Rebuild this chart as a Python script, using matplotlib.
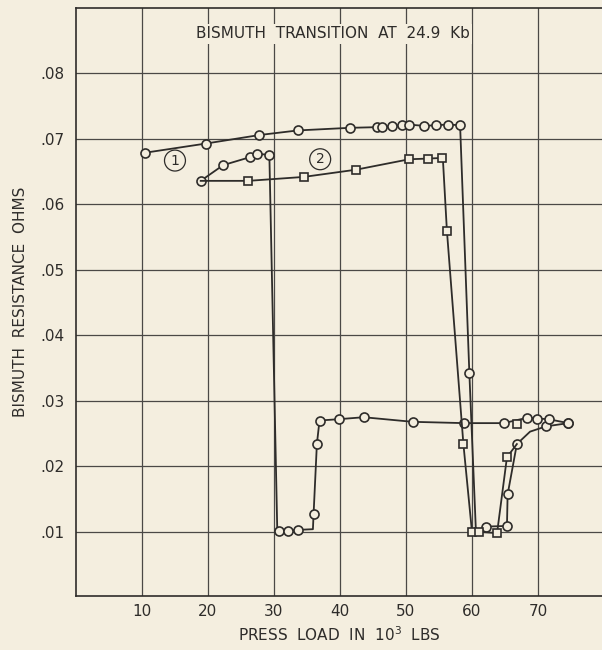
import matplotlib
matplotlib.use("Agg")
import matplotlib.pyplot as plt

# run 1: upper circle branch, drop near 59-60 and recovery near 65
a_x = [10.5, 19.7, 27.8, 33.6, 41.5, 45.6, 46.4, 47.9, 49.4, 50.4, 52.7, 54.6, 56.3, 58.2,
       59.6, 60.6, 62.2, 65.3, 65.4, 66.8, 68.8, 71.2, 74.6]
a_y = [0.0679, 0.0693, 0.0706, 0.0713, 0.0717, 0.0718, 0.0718, 0.0720, 0.0721, 0.0722, 0.0720, 0.0721, 0.0722, 0.0721,
       0.0343, 0.0100, 0.0108, 0.0109, 0.0157, 0.0234, 0.0253, 0.0261, 0.0266]
a_marks = [0, 1, 2, 3, 4, 5, 6, 7, 8, 9, 10, 11, 12, 13, 14, 16, 17, 18, 19, 21, 22]

# run 2: lower circle branch, drop at 30 and flat 0.027 line
b_x = [18.9, 22.3, 26.3, 27.4, 29.3, 30.5, 30.7, 32.2, 33.7, 35.9, 36.0, 36.5, 36.9, 39.8, 43.6, 51.0,
       58.8, 64.8, 68.3, 69.9, 71.6, 74.6]
b_y = [0.0636, 0.0660, 0.0672, 0.0677, 0.0676, 0.0102, 0.0102, 0.0102, 0.0103, 0.0104, 0.0127, 0.0234, 0.0270, 0.0272, 0.0275, 0.0268,
       0.0266, 0.0266, 0.0274, 0.0273, 0.0272, 0.0266]
b_marks = [0, 1, 2, 3, 4, 6, 7, 8, 10, 11, 12, 13, 14, 15, 16, 17, 18, 19, 20, 21]

# run 3: squares
c_x = [18.9, 26.1, 34.5, 42.4, 50.5, 53.3, 55.4, 55.6, 56.2, 58.7, 60.0, 61.0, 63.8, 65.3, 66.8]
c_y = [0.0636, 0.0636, 0.0642, 0.0653, 0.0669, 0.0670, 0.0671, 0.0668, 0.0560, 0.0234, 0.0100, 0.0100, 0.0098, 0.0214, 0.0234]
c_marks = [1, 2, 3, 4, 5, 6, 8, 9, 10, 11, 12, 13]
lone_sq_x = [66.8]
lone_sq_y = [0.0264]

x_ticks = [10, 20, 30, 40, 50, 60, 70]
y_ticks = [0.01, 0.02, 0.03, 0.04, 0.05, 0.06, 0.07, 0.08]
y_labels = ['.01', '.02', '.03', '.04', '.05', '.06', '.07', '.08']

bg = '#f4eedf'
ink = '#2e2c2a'

fig = plt.figure(figsize=(6.02, 6.5), dpi=100, facecolor=bg)
ax = fig.add_axes([0.1262, 0.0831, 0.8738, 0.9046], facecolor=bg)

style = dict(color=ink, lw=1.3, mfc=bg, mec=ink, mew=1.2)
ax.plot(a_x, a_y, marker='o', ms=6.5, markevery=a_marks, zorder=3, **style)
ax.plot(b_x, b_y, marker='o', ms=6.5, markevery=b_marks, zorder=3, **style)
ax.plot(c_x, c_y, marker='s', ms=5.5, markevery=c_marks, zorder=3, **style)
ax.plot(lone_sq_x, lone_sq_y, ls='none', marker='s', ms=5.5, color=ink, mfc=bg, mec=ink, mew=1.2, zorder=3)

ax.set_xlim(0, 79.7)
ax.set_ylim(0.0002, 0.09)
ax.set_xticks(x_ticks)
ax.set_yticks(y_ticks)
ax.set_yticklabels(y_labels)
ax.grid(True, color='#4a4846', lw=0.9)
ax.set_axisbelow(True)
ax.tick_params(axis='y', length=0, labelsize=11, colors=ink, pad=8)
ax.tick_params(axis='x', length=0, labelsize=11, colors=ink, pad=6)
for s in ['left', 'top', 'bottom']:
    ax.spines[s].set_color(ink)
    ax.spines[s].set_linewidth(1.2)
ax.spines['right'].set_visible(False)

ax.text(0.489, 0.956, 'BISMUTH  TRANSITION  AT  24.9  Kb', transform=ax.transAxes,
        ha='center', va='center', fontsize=11, color=ink,
        bbox=dict(fc=bg, ec='none', pad=1.5))
ax.text(15.0, 0.0667, '1', ha='center', va='center', fontsize=10, color=ink,
        bbox=dict(boxstyle='circle,pad=0.25', fc=bg, ec=ink, lw=0.9))
ax.text(37.0, 0.0669, '2', ha='center', va='center', fontsize=10, color=ink,
        bbox=dict(boxstyle='circle,pad=0.25', fc=bg, ec=ink, lw=0.9))

ax.set_xlabel('PRESS  LOAD  IN  $\\mathregular{10^3}$  LBS', fontsize=11, color=ink, labelpad=4)
ax.set_ylabel('BISMUTH  RESISTANCE  OHMS', fontsize=11, color=ink)
ax.yaxis.set_label_coords(-0.092, 0.5)

fig.savefig('out.png', dpi=100, facecolor=bg)
